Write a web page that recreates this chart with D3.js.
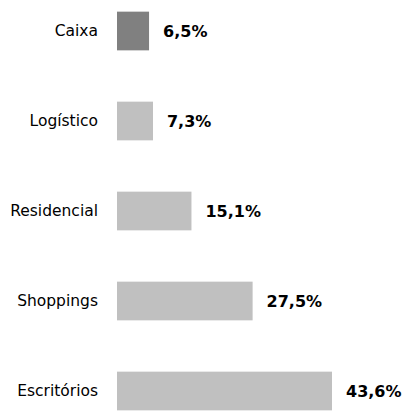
<!DOCTYPE html>
<html>
<head>
<meta charset="utf-8">
<script src="https://cdn.jsdelivr.net/npm/d3@7"></script>
<style>
body { margin: 0; background: #fff; }
text { font-family: "DejaVu Sans", Verdana, sans-serif; }
</style>
</head>
<body>
<svg id="chart" width="409" height="412"></svg>
<script>
const categories = ["Caixa", "Logístico", "Residencial", "Shoppings", "Escritórios"];
const values = [6.5, 7.3, 15.1, 27.5, 43.6];
const colors = ["#808080", "#c0c0c0", "#c0c0c0", "#c0c0c0", "#c0c0c0"];

const svg = d3.select("#chart");

const x = d3.scaleLinear().domain([0, 43.6]).range([117, 332]);
const y = d3.scaleBand().domain(categories).range([-14, 436]).paddingInner(0.57).paddingOuter(0.285);

const row = svg.selectAll("g.row")
    .data(categories)
    .enter().append("g")
    .attr("class", "row");

row.append("rect")
    .attr("x", x(0))
    .attr("y", d => y(d))
    .attr("width", (d, i) => x(values[i]) - x(0))
    .attr("height", y.bandwidth())
    .attr("fill", (d, i) => colors[i]);

row.append("text")
    .attr("x", 98)
    .attr("y", d => y(d) + y.bandwidth() / 2)
    .attr("dy", "0.35em")
    .attr("text-anchor", "end")
    .attr("font-size", 15.5)
    .attr("fill", "#000")
    .text(d => d);

row.append("text")
    .attr("x", (d, i) => x(values[i]) + 14)
    .attr("y", d => y(d) + y.bandwidth() / 2)
    .attr("dy", "0.35em")
    .attr("font-size", 16)
    .attr("font-weight", "bold")
    .attr("fill", "#000")
    .text((d, i) => d3.format(".1f")(values[i]).replace(".", ",") + "%");
</script>
</body>
</html>
